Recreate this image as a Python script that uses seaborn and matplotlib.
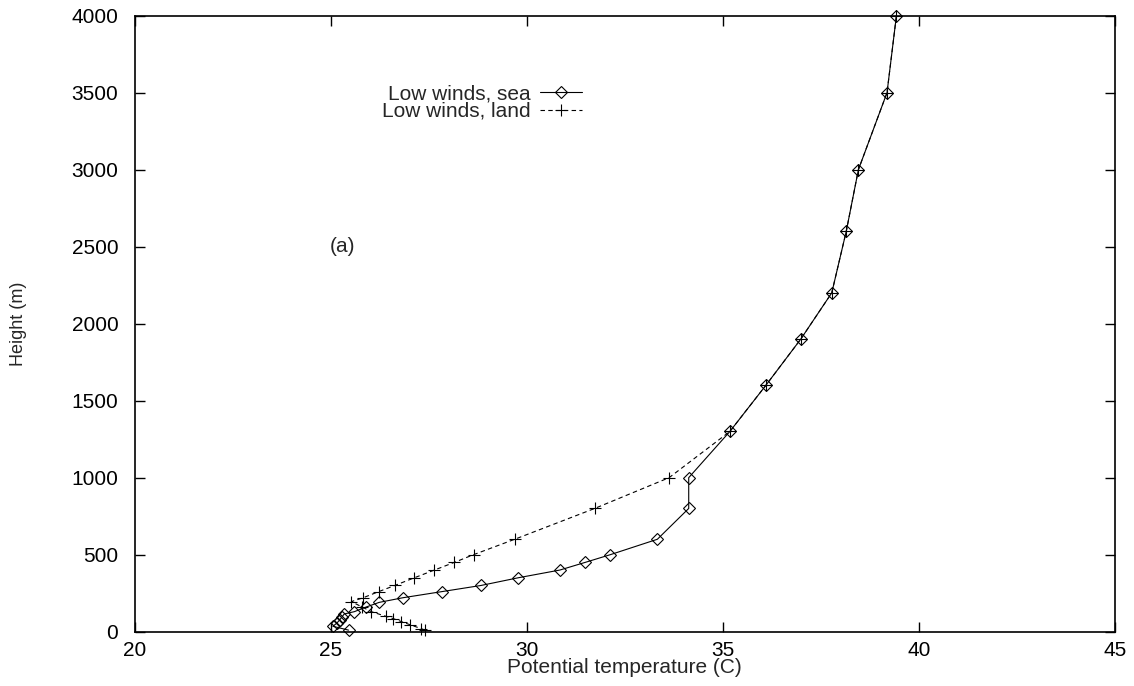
import matplotlib.pyplot as plt
import seaborn as sns

# Low winds, sea profile (potential temperature C, height m)
sea_temp = [25.45, 25.05, 25.15, 25.22, 25.28, 25.34, 25.60, 25.90, 26.23, 26.83, 27.83, 28.83,
            29.78, 30.84, 31.49, 32.13, 33.33, 34.13, 34.13, 35.18, 36.10, 36.99, 37.78, 38.15,
            38.46, 39.19, 39.43]
sea_height = [10, 35, 55, 75, 95, 115, 130, 160, 190, 220, 260, 300,
              350, 400, 450, 500, 600, 800, 1000, 1300, 1600, 1900, 2200, 2600,
              3000, 3500, 4000]

# Low winds, land profile
land_temp = [27.40, 27.30, 27.02, 26.80, 26.59, 26.40, 26.03, 25.80, 25.52, 25.82, 26.22, 26.63,
             27.13, 27.64, 28.15, 28.64, 29.69, 31.73, 33.63, 35.18, 36.10, 36.99, 37.78, 38.15,
             38.46, 39.19, 39.43]
land_height = [10, 20, 45, 65, 85, 100, 130, 160, 195, 220, 260, 300,
               350, 400, 450, 500, 600, 800, 1000, 1300, 1600, 1900, 2200, 2600,
               3000, 3500, 4000]

sns.set_style('ticks')
plt.rcParams['font.family'] = ['Liberation Sans', 'DejaVu Sans']
plt.rcParams['font.size'] = 15

fig = plt.figure(figsize=(11.34, 6.86), dpi=100)
ax = fig.add_axes([0.119, 0.0792, 0.864, 0.898])

sns.lineplot(x=sea_temp, y=sea_height, sort=False, estimator=None, ax=ax,
             color='black', linewidth=0.8, marker='D', markersize=6.5,
             markerfacecolor='none', markeredgecolor='black', markeredgewidth=0.8,
             label='Low winds, sea', clip_on=False)
sns.lineplot(x=land_temp, y=land_height, sort=False, estimator=None, ax=ax,
             color='black', linewidth=0.8, linestyle=(0, (4, 3)), marker='+', markersize=8,
             markeredgecolor='black', markeredgewidth=0.8,
             label='Low winds, land', clip_on=False)

ax.set_xlim(20, 45)
ax.set_ylim(0, 4000)
ax.set_xticks(range(20, 46, 5))
ax.set_yticks(range(0, 4001, 500))
ax.tick_params(direction='in', length=7, width=1, top=True, right=True,
               colors='black', labelsize=15)
ax.tick_params(axis='y', pad=12)
ax.tick_params(axis='x', pad=7)
for s in ax.spines.values():
    s.set_color('black')
    s.set_linewidth(1.2)

ax.set_xlabel('Potential temperature (C)', fontsize=15)
ax.xaxis.set_label_coords(0.5, -0.043)
ax.set_ylabel('Height (m)', fontsize=13)
ax.yaxis.set_label_coords(-0.110, 0.5)
ax.text(25.3, 2500, '(a)', ha='center', va='center', fontsize=15)

ax.legend(loc='upper right', bbox_to_anchor=(0.456, 0.889), markerfirst=False,
          frameon=False, handlelength=2.0, handletextpad=0.45, labelspacing=-0.05,
          borderaxespad=0, borderpad=0, fontsize=15)

fig.savefig('out.png', dpi=100)
